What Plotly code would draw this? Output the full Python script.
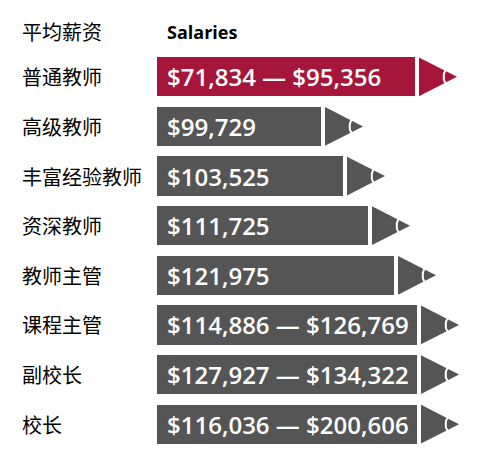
import plotly.graph_objects as go
import numpy as np

# ---- data ----
roles = ["普通教师", "高级教师", "丰富经验教师", "资深教师", "教师主管", "课程主管", "副校长", "校长"]
salary_labels = ["$71,834 — $95,356", "$99,729", "$103,525", "$111,725", "$121,975",
                 "$114,886 — $126,769", "$127,927 — $134,322", "$116,036 — $200,606"]
pencil_lengths = [258, 164, 186, 211, 237, 260, 260, 260]
highlight = [True, False, False, False, False, False, False, False]
header_left = "平均薪资"
header_right = "Salaries"

RED = "#a6163a"
GRAY = "#555555"
colors = [RED if h else GRAY for h in highlight]

OFF = 8  # default page body margin
W, H = 493, 459
ML, MT, MB = 157 - OFF, 52 - OFF, 10 + OFF
plot_w = W - ML
plot_h = H - MT - MB
n = len(roles)
ypos = list(range(n))
bar_w = 0.79
gap, tip_len = 4, 38

fig = go.Figure()
fig.add_trace(go.Bar(
    x=pencil_lengths, y=ypos, base=0, orientation="h", width=bar_w,
    marker=dict(color=colors, line=dict(width=0)), hoverinfo="skip", showlegend=False))

for i, (L, c) in enumerate(zip(pencil_lengths, colors)):
    hh = bar_w / 2 - 0.005
    x0 = L + gap
    x1 = x0 + tip_len
    fig.add_trace(go.Scatter(
        x=[x0, x0, x1, x0], y=[i - hh, i + hh, i, i - hh], mode="lines",
        fill="toself", fillcolor=c, line=dict(width=0, color=c),
        hoverinfo="skip", showlegend=False))
    # white arc separating the graphite point
    t = 0.66
    xa = x0 + t * tip_len
    half = (1 - t) * hh + 0.04
    s = np.linspace(-1, 1, 15)
    fig.add_trace(go.Scatter(
        x=xa + 2.5 - 3.0 * (1 - s ** 2), y=i + s * half, mode="lines",
        line=dict(color="white", width=2), hoverinfo="skip", showlegend=False))

label_x = (20 - OFF - ML) / plot_w
annotations = []
for i, (lab, role) in enumerate(zip(salary_labels, roles)):
    annotations.append(dict(
        x=0, y=i, xref="x", yref="y", text=lab, showarrow=False,
        xanchor="left", yanchor="middle", xshift=8,
        font=dict(family="Open Sans", size=24, color="white", weight=600)))
    annotations.append(dict(
        x=label_x, y=i, xref="paper", yref="y", text=role, showarrow=False,
        xanchor="left", yanchor="middle",
        font=dict(family="Noto Sans CJK SC", size=20, color="#000000")))

header_py = 1 + (52 - 32) / plot_h
annotations.append(dict(
    x=label_x, y=header_py, xref="paper", yref="paper", text=header_left,
    showarrow=False, xanchor="left", yanchor="middle",
    font=dict(family="Noto Sans CJK SC", size=20, color="#000000")))
annotations.append(dict(
    x=0, y=header_py, xref="paper", yref="paper", text=header_right, xshift=8,
    showarrow=False, xanchor="left", yanchor="middle",
    font=dict(family="Open Sans", size=18, color="#000000", weight=700)))

fig.update_layout(
    width=W, height=H, margin=dict(l=ML, r=0, t=MT, b=MB),
    paper_bgcolor="white", plot_bgcolor="white",
    xaxis=dict(range=[0, plot_w], visible=False, fixedrange=True),
    yaxis=dict(range=[n - 0.5, -0.5], visible=False, fixedrange=True),
    annotations=annotations, bargap=0,
)
fig.write_html("out.html")
